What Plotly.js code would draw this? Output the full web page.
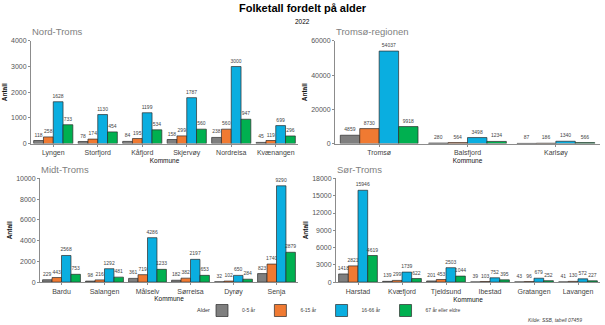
<!DOCTYPE html>
<html>
<head>
<meta charset="utf-8">
<script src="https://cdn.plot.ly/plotly-3.0.1.min.js"></script>
<style>html,body{margin:0;padding:0;background:#fff}#chart{width:605px;height:325px}</style>
</head>
<body>
<div id="chart"></div>
<script>
// ---- Data ----
const ageGroups = ["0-5 år", "6-15 år", "16-66 år", "67 år eller eldre"];
const ageColors = ["#7f7f7f", "#f07a32", "#0aaee0", "#00b050"];

const nordTromsKommuner = ["Lyngen", "Storfjord", "Kåfjord", "Skjervøy", "Nordreisa", "Kvænangen"];
const nordTroms_0_5   = [118, 78, 84, 158, 238, 45];
const nordTroms_6_15  = [258, 174, 195, 299, 560, 119];
const nordTroms_16_66 = [1628, 1130, 1199, 1787, 3000, 699];
const nordTroms_67    = [733, 454, 534, 560, 947, 296];

const tromsoKommuner = ["Tromsø", "Balsfjord", "Karlsøy"];
const tromso_0_5   = [4859, 280, 87];
const tromso_6_15  = [8730, 564, 186];
const tromso_16_66 = [54037, 3498, 1340];
const tromso_67    = [9918, 1234, 566];

const midtTromsKommuner = ["Bardu", "Salangen", "Målselv", "Sørreisa", "Dyrøy", "Senja"];
const midtTroms_0_5   = [229, 98, 361, 182, 32, 823];
const midtTroms_6_15  = [443, 216, 719, 382, 102, 1740];
const midtTroms_16_66 = [2568, 1292, 4286, 2197, 650, 9290];
const midtTroms_67    = [753, 481, 1233, 653, 284, 2879];

const sorTromsKommuner = ["Harstad", "Kvæfjord", "Tjeldsund", "Ibestad", "Gratangen", "Lavangen"];
const sorTroms_0_5   = [1418, 139, 201, 39, 43, 41];
const sorTroms_6_15  = [2821, 299, 453, 103, 96, 130];
const sorTroms_16_66 = [15946, 1739, 2503, 752, 679, 572];
const sorTroms_67    = [4619, 622, 1044, 395, 252, 227];

const panelTitles = ["Nord-Troms", "Tromsø-regionen", "Midt-Troms", "Sør-Troms"];
const yMax = [4000, 60000, 10000, 18000];
const yDtick = [1000, 20000, 2000, 3000];

// ---- Build ----
const W = 605, H = 325;
const fx = p => p / W;
const fy = p => 1 - p / H;

const panels = [
  {cats: nordTromsKommuner, series: [nordTroms_0_5, nordTroms_6_15, nordTroms_16_66, nordTroms_67], x: [31, 298], y: [41, 144], ax: ""},
  {cats: tromsoKommuner, series: [tromso_0_5, tromso_6_15, tromso_16_66, tromso_67], x: [335, 600], y: [41, 144], ax: "2"},
  {cats: midtTromsKommuner, series: [midtTroms_0_5, midtTroms_6_15, midtTroms_16_66, midtTroms_67], x: [40, 298], y: [179, 283], ax: "3"},
  {cats: sorTromsKommuner, series: [sorTroms_0_5, sorTroms_6_15, sorTroms_16_66, sorTroms_67], x: [336, 600], y: [179, 283], ax: "4"}
];

const traces = [];
const layout = {
  width: W, height: H,
  margin: {l: 0, r: 0, t: 0, b: 0},
  paper_bgcolor: "#fff", plot_bgcolor: "#fff",
  barmode: "group", bargap: 0.12, bargroupgap: 0,
  font: {family: "Liberation Sans, Arial, sans-serif", color: "#444"},
  showlegend: true,
  legend: {
    orientation: "h", x: fx(202), xanchor: "left", y: fy(311), yanchor: "middle",
    font: {size: 5, color: "#444"},
    itemwidth: 30, tracegroupgap: 0, valign: "middle",
    bgcolor: "rgba(0,0,0,0)"
  },
  annotations: [
    {text: "<b>Folketall fordelt på alder</b>", x: 0.5, y: fy(8), xref: "paper", yref: "paper", yanchor: "middle", showarrow: false, font: {size: 11, color: "#000"}},
    {text: "2022", x: 0.5, y: fy(22), xref: "paper", yref: "paper", yanchor: "middle", showarrow: false, font: {size: 6.5, color: "#000"}},
    {text: "Alder", x: fx(212), y: fy(311), xref: "paper", yref: "paper", xanchor: "right", yanchor: "middle", showarrow: false, font: {size: 5.5, color: "#333"}},
    {text: "<i>Kilde: SSB, tabell 07459</i>", x: fx(584), y: fy(321), xref: "paper", yref: "paper", xanchor: "right", yanchor: "middle", showarrow: false, font: {size: 5, color: "#444"}}
  ]
};

panels.forEach((p, pi) => {
  const xa = "xaxis" + p.ax, ya = "yaxis" + p.ax;
  p.series.forEach((vals, si) => {
    traces.push({
      type: "bar",
      x: p.cats, y: vals,
      name: ageGroups[si],
      legendgroup: ageGroups[si],
      showlegend: pi === 0,
      xaxis: "x" + p.ax, yaxis: "y" + p.ax,
      marker: {color: ageColors[si], line: {color: "#2b2b2b", width: 0.7}},
      text: vals.map(String),
      textposition: "outside",
      textangle: 0,
      constraintext: "none",
      cliponaxis: false,
      textfont: {size: 5, color: "#444"},
      hoverinfo: "x+y+name"
    });
  });
  layout[xa] = {
    domain: [fx(p.x[0]), fx(p.x[1])],
    anchor: "y" + p.ax,
    showline: true, linecolor: "#8c8c8c", linewidth: 1,
    ticks: "outside", ticklen: 2, tickcolor: "#8c8c8c",
    tickfont: {size: 7, color: "#444"},
    showgrid: false, zeroline: false,
    title: {text: "Kommune", font: {size: 6.5, color: "#111"}, standoff: 0},
    automargin: false
  };
  layout[ya] = {
    domain: [fy(p.y[1]), fy(p.y[0])],
    anchor: "x" + p.ax,
    range: [0, yMax[pi]], dtick: yDtick[pi], tickformat: "d",
    showline: true, linecolor: "#8c8c8c", linewidth: 1,
    ticks: "outside", ticklen: 2, tickcolor: "#8c8c8c",
    tickfont: {size: 7, color: "#555"},
    showgrid: false, zeroline: false,
    title: {text: "<b>Antall</b>", font: {size: 6.5, color: "#111"}, standoff: 2},
    automargin: false
  };
  layout.annotations.push({
    text: panelTitles[pi], x: fx(p.x[0] - 1), y: fy(p.y[0] - 9), xref: "paper", yref: "paper",
    xanchor: "left", yanchor: "middle", showarrow: false, font: {size: 9.5, color: "#808080"}
  });
});

Plotly.newPlot("chart", traces, layout, {displayModeBar: false, staticPlot: true});
</script>
</body>
</html>
